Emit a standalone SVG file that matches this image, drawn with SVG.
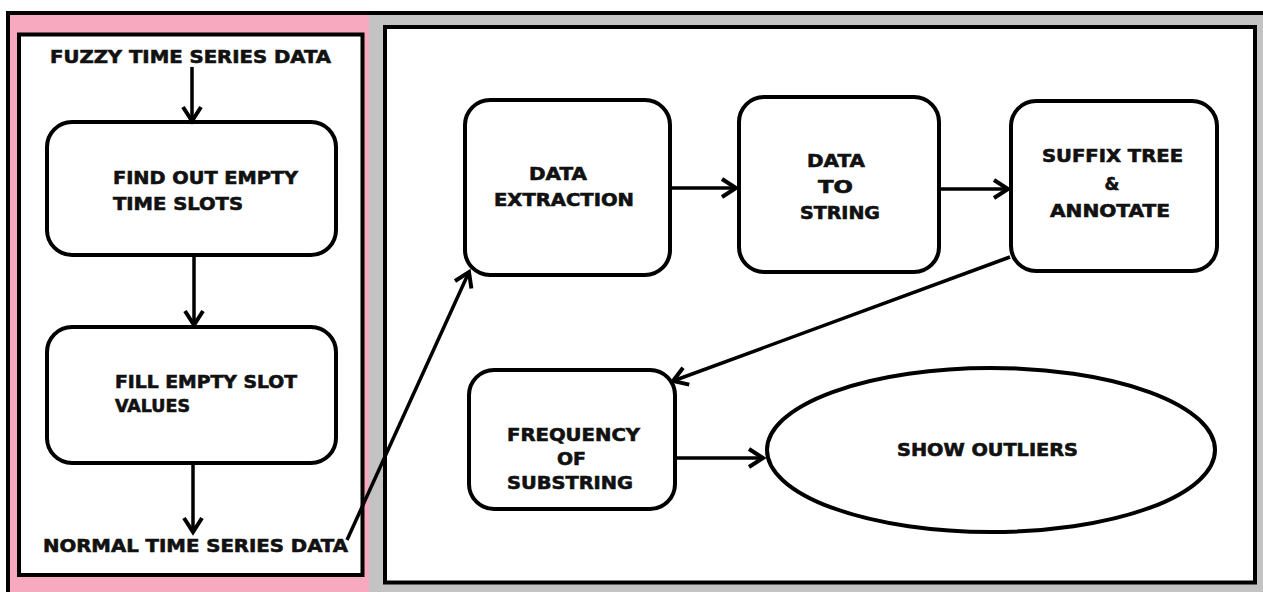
<svg xmlns="http://www.w3.org/2000/svg" width="1263" height="592" viewBox="0 0 1263 592">
<style>
.box{fill:#fff;stroke:#000;stroke-width:4}
.lbl{font-family:"DejaVu Sans","Liberation Sans",sans-serif;font-weight:bold;font-size:17px;fill:#111;stroke:#111;stroke-width:0.6}
.con{stroke:#000;stroke-width:3.5;fill:none;marker-end:url(#chev)}
</style>
<defs>
<marker id="chev" markerUnits="userSpaceOnUse" viewBox="-18 -12 22 24" markerWidth="22" markerHeight="24" refX="0" refY="0" orient="auto">
<path d="M-14,-9 L0,0 L-14,9" fill="none" stroke="#000" stroke-width="4"/>
</marker>
</defs>
<rect x="0" y="0" width="1263" height="592" fill="#fff"/>
<g id="background">
<rect x="8" y="13" width="362" height="600" fill="#f7a9c0"/>
<rect x="369" y="15" width="900" height="600" fill="#c3c3c3"/>
<line x1="8" y1="13" x2="1263" y2="13" stroke="#000" stroke-width="4"/>
<line x1="8" y1="11" x2="8" y2="592" stroke="#000" stroke-width="4"/>
<rect x="19" y="34.5" width="343.5" height="540.5" fill="#fff" stroke="#000" stroke-width="4"/>
<rect x="385" y="27" width="870" height="555.5" fill="#fff" stroke="#000" stroke-width="4"/>
</g>
<g id="fuzzy">
<text class="lbl" x="50" y="63" textLength="281" lengthAdjust="spacingAndGlyphs">FUZZY TIME SERIES DATA</text>
</g>
<g id="find">
<rect class="box" x="47" y="122" width="289" height="133" rx="25"/>
<text class="lbl" x="113" y="184" textLength="185" lengthAdjust="spacingAndGlyphs">FIND OUT EMPTY</text>
<text class="lbl" x="113" y="210" textLength="130" lengthAdjust="spacingAndGlyphs">TIME SLOTS</text>
</g>
<g id="fill">
<rect class="box" x="47" y="327" width="289" height="136" rx="25"/>
<text class="lbl" x="115" y="388" textLength="182" lengthAdjust="spacingAndGlyphs">FILL EMPTY SLOT</text>
<text class="lbl" x="115" y="412" textLength="75" lengthAdjust="spacingAndGlyphs">VALUES</text>
</g>
<g id="normal">
<text class="lbl" x="43" y="552" textLength="305" lengthAdjust="spacingAndGlyphs">NORMAL TIME SERIES DATA</text>
</g>
<g id="extraction">
<rect class="box" x="465" y="100" width="205" height="175" rx="25"/>
<text class="lbl" x="529" y="180" textLength="58" lengthAdjust="spacingAndGlyphs">DATA</text>
<text class="lbl" x="494" y="206" textLength="140" lengthAdjust="spacingAndGlyphs">EXTRACTION</text>
</g>
<g id="tostring">
<rect class="box" x="739" y="97" width="200" height="175" rx="25"/>
<text class="lbl" x="807" y="167" textLength="58" lengthAdjust="spacingAndGlyphs">DATA</text>
<text class="lbl" x="818" y="193" textLength="35" lengthAdjust="spacingAndGlyphs">TO</text>
<text class="lbl" x="800" y="219" textLength="80" lengthAdjust="spacingAndGlyphs">STRING</text>
</g>
<g id="suffix">
<rect class="box" x="1011" y="101" width="206" height="170" rx="25"/>
<text class="lbl" x="1042" y="162" textLength="141" lengthAdjust="spacingAndGlyphs">SUFFIX TREE</text>
<text class="lbl" x="1112" y="190" text-anchor="middle">&amp;</text>
<text class="lbl" x="1050" y="217" textLength="120" lengthAdjust="spacingAndGlyphs">ANNOTATE</text>
</g>
<g id="frequency">
<rect class="box" x="469" y="370" width="206" height="139" rx="25"/>
<text class="lbl" x="507" y="441" textLength="133" lengthAdjust="spacingAndGlyphs">FREQUENCY</text>
<text class="lbl" x="557" y="465" textLength="29" lengthAdjust="spacingAndGlyphs">OF</text>
<text class="lbl" x="507" y="489" textLength="126" lengthAdjust="spacingAndGlyphs">SUBSTRING</text>
</g>
<g id="outliers">
<ellipse class="box" cx="991" cy="450" rx="224" ry="82"/>
<text class="lbl" x="897" y="456" textLength="181" lengthAdjust="spacingAndGlyphs">SHOW OUTLIERS</text>
</g>
<g id="connectors">
<line class="con" x1="192" y1="67" x2="192" y2="121"/>
<line class="con" x1="194" y1="257" x2="194" y2="325"/>
<line class="con" x1="193" y1="465" x2="193" y2="532"/>
<line class="con" x1="347" y1="540" x2="469" y2="272"/>
<line class="con" x1="672" y1="188" x2="736" y2="188"/>
<line class="con" x1="941" y1="189" x2="1008" y2="189"/>
<line class="con" x1="1010" y1="257" x2="673" y2="381"/>
<line class="con" x1="677" y1="458" x2="763" y2="458"/>
</g>
</svg>
